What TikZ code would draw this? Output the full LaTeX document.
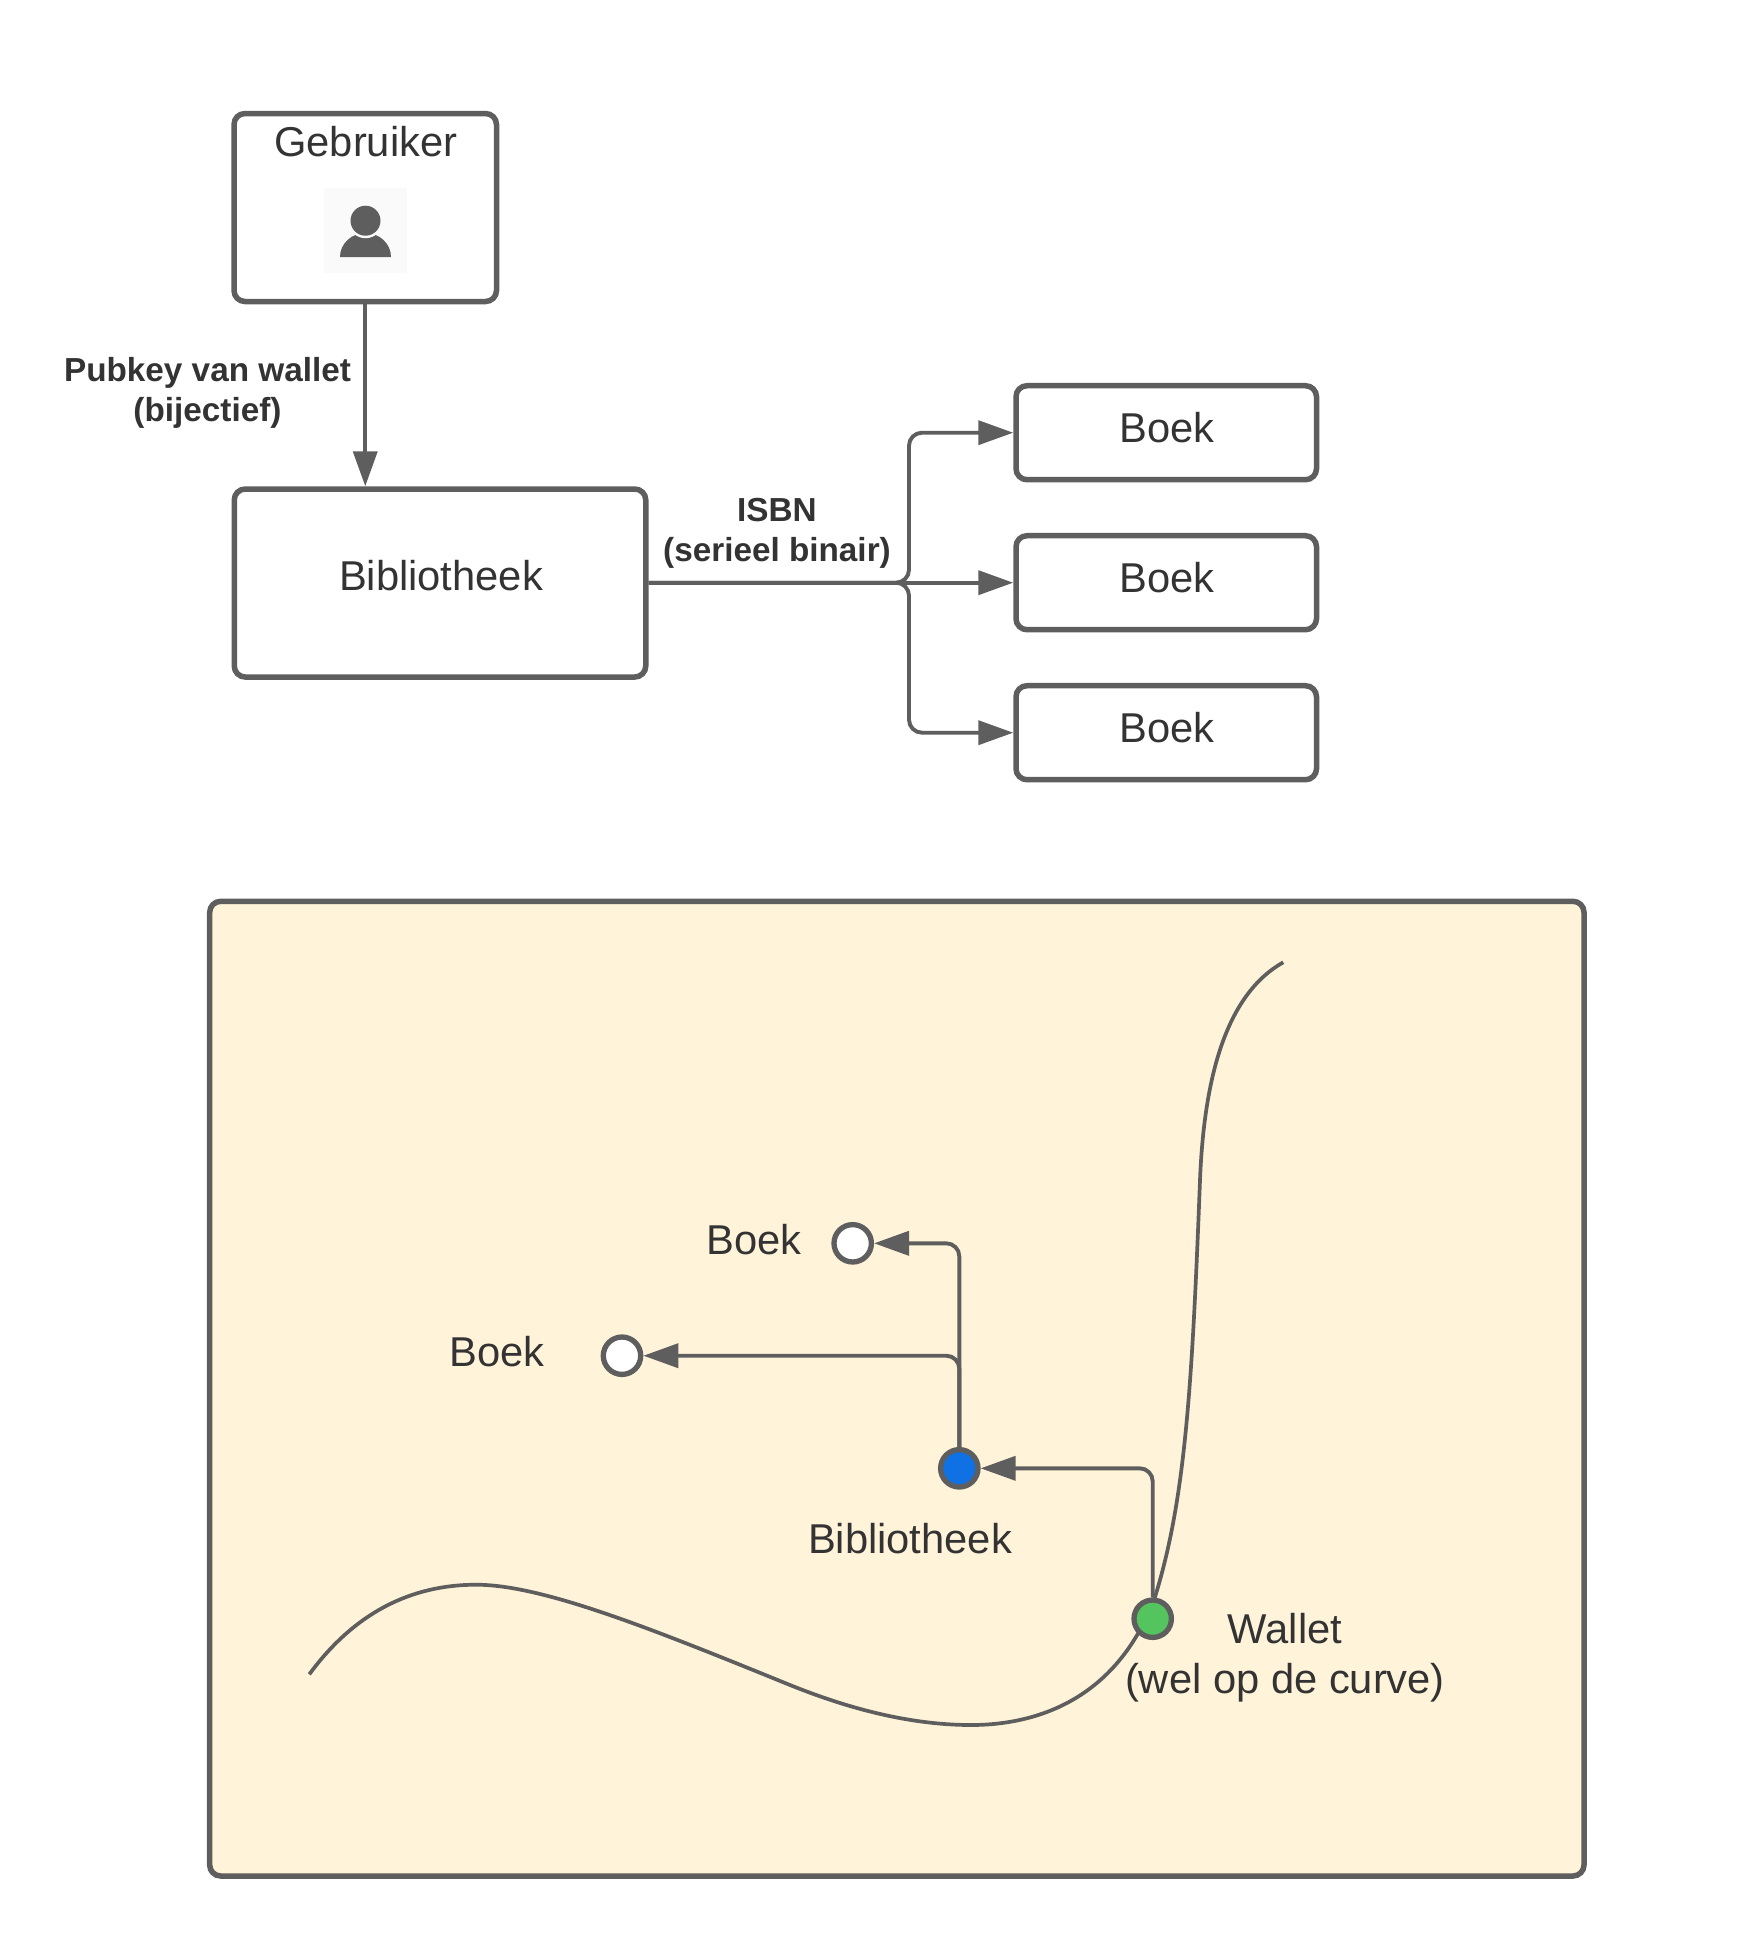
\documentclass[tikz,border=0pt]{standalone}
\usepackage{fontspec}
\setmainfont{Liberation Sans}
\usetikzlibrary{arrows.meta,calc}
\definecolor{linegrey}{HTML}{5E5E5E}
\definecolor{textgrey}{HTML}{333333}
\definecolor{panelfill}{HTML}{FFF3D9}
\definecolor{iconbg}{HTML}{FAFAFA}
\definecolor{dotblue}{HTML}{1071E5}
\definecolor{dotgreen}{HTML}{54C45E}
\tikzset{
  boxnode/.style={draw=linegrey,line width=5.5pt,rounded corners=11pt,fill=white,inner sep=0pt},
  dot/.style={circle,draw=linegrey,line width=5.3pt,minimum size=37.4pt,inner sep=0pt},
  conn/.style={draw=linegrey,line width=3.9pt,-{Triangle[length=35pt,width=24pt]},rounded corners=13pt},
  plainlabel/.style={text=textgrey,font=\fontsize{41.7}{50}\selectfont,align=center,inner sep=0pt,anchor=base},
  boldlabel/.style={text=textgrey,font=\bfseries\fontsize{33.3}{40}\selectfont,align=center,inner sep=0pt,anchor=center},
}
\begin{document}
\begin{tikzpicture}[x=1pt,y=-1pt]
\useasboundingbox (0,0) rectangle (1744,1952);
\fill[white] (0,0) rectangle (1744,1952);
% upper part
\node[boxnode,minimum width=262.5pt,minimum height=188pt] (geb) at (365.25,207.5) {};
\node[boxnode,minimum width=411.5pt,minimum height=188pt] (bib) at (440,583) {};
\node[boxnode,minimum width=300.5pt,minimum height=94pt] (b1) at (1166.25,432.7) {};
\node[boxnode,minimum width=300.5pt,minimum height=94pt] (b2) at (1166.25,582.7) {};
\node[boxnode,minimum width=300.5pt,minimum height=94pt] (b3) at (1166.25,732.7) {};
\node[plainlabel] (gebt) at (365.75,156.5) {Gebruiker};
\node[plainlabel] (bibt) at (441,590.2) {Bibliotheek};
\node[plainlabel] (b1t) at (1167,442.7) {Boek};
\node[plainlabel] (b2t) at (1167,592.7) {Boek};
\node[plainlabel] (b3t) at (1167,742.7) {Boek};
% user icon
\node[fill=iconbg,minimum width=83pt,minimum height=85pt,inner sep=0pt] (iconbox) at (365.5,230.5) {};
\fill[linegrey] (340,257) arc[start angle=180,end angle=360,x radius=25.5,y radius=24] -- cycle;
\node[circle,fill=iconbg,minimum size=35pt,inner sep=0pt] (iconring) at (365.5,220.7) {};
\node[circle,fill=linegrey,minimum size=30pt,inner sep=0pt] (iconhead) at (365.5,220.7) {};
% upper connectors
\draw[conn] (geb.south) -- (geb.south |- bib.north);
\coordinate (jn) at (909,582.7);
\draw[conn] (bib.east |- b2.west) -- (b2.west);
\draw[conn] (bib.east |- b2.west) -- (jn) -- (jn |- b1.west) -- (b1.west);
\draw[conn] (bib.east |- b2.west) -- (jn) -- (jn |- b3.west) -- (b3.west);
\node[boldlabel] (pk) at (207.5,393) {Pubkey van wallet\\(bijectief)};
\node[boldlabel] (isbn) at (777,533.5) {ISBN\\(serieel binair)};
% panel
\node[boxnode,fill=panelfill,minimum width=1374.3pt,minimum height=974.7pt] (panel) at (896.85,1388.65) {};
\draw[linegrey,line width=3.7pt] (309.3,1674.3)
  .. controls (355,1612) and (412,1584.7) .. (476,1584.7)
  .. controls (542,1584.7) and (650,1628) .. (790,1685)
  .. controls (825,1699) and (895,1725) .. (971,1725)
  .. controls (1040,1725) and (1118,1697) .. (1155,1597)
  .. controls (1185,1500) and (1192,1390) .. (1200,1180)
  .. controls (1204,1080) and (1225,995) .. (1283.3,962.3);
\node[dot,fill=white] (c1) at (852.7,1243.3) {};
\node[dot,fill=white] (c2) at (622,1355.7) {};
\node[dot,fill=dotblue] (blue) at (959.3,1468.3) {};
\node[dot,fill=dotgreen] (green) at (1152.7,1618.7) {};
\draw[conn] (blue.north) -- (blue.north |- c1.east) -- (c1.east);
\draw[conn] (blue.north) -- (blue.north |- c2.east) -- (c2.east);
\draw[conn] (green.north) -- (green.north |- blue.east) -- (blue.east);
\node[plainlabel] (c1t) at (754,1254) {Boek};
\node[plainlabel] (c2t) at (497,1366) {Boek};
\node[plainlabel] (bluet) at (910,1553) {Bibliotheek};
\node[plainlabel] (gt1) at (1285,1643) {Wallet};
\node[plainlabel] (gt2) at (1285,1693) {(wel op de curve)};
\end{tikzpicture}
\end{document}
